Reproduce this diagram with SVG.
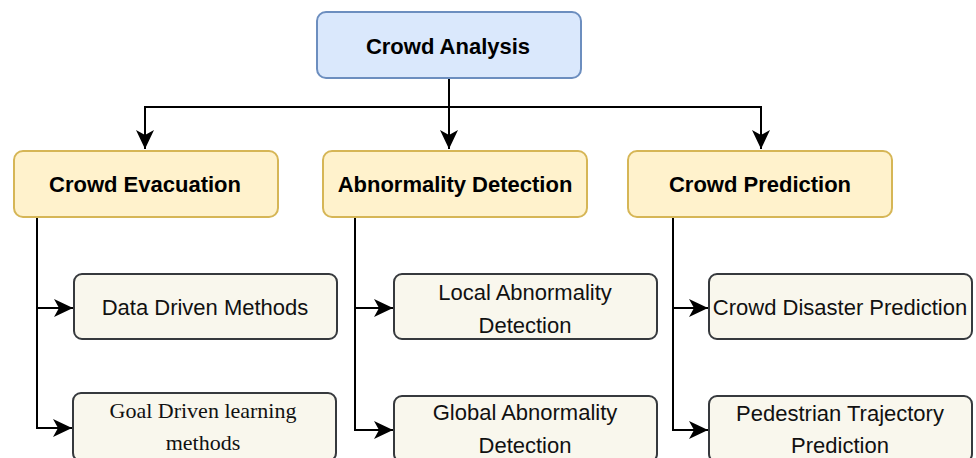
<svg xmlns="http://www.w3.org/2000/svg" width="976" height="458" viewBox="0 0 976 458">
<style>
.root{fill:#dae8fc;stroke:#6c8ebf;stroke-width:2}
.cat{fill:#fff2cc;stroke:#d6b656;stroke-width:2}
.leaf{fill:#f9f7ed;stroke:#36393d;stroke-width:2}
.b{font-family:"Liberation Sans",Arial,sans-serif;font-weight:bold;font-size:22px;fill:#000;text-anchor:middle}
.t{font-family:"Liberation Sans",Arial,sans-serif;font-size:22px;fill:#111;text-anchor:middle}
.s{font-family:"Liberation Serif","Times New Roman",serif;font-size:22px;fill:#111;text-anchor:middle}
.c{fill:none;stroke:#000;stroke-width:2}
</style>
<defs>
<marker id="arr" markerUnits="userSpaceOnUse" markerWidth="22" markerHeight="20" refX="19" refY="9" orient="auto">
<path d="M0,0 L19,9 L0,18 L5,9 Z" fill="#000"/>
</marker>
</defs>
<g id="connectors">
<path class="c" d="M449,78 V149" marker-end="url(#arr)"/>
<path class="c" d="M145,107 H761"/>
<path class="c" d="M145,106 V149" marker-end="url(#arr)"/>
<path class="c" d="M761,106 V149" marker-end="url(#arr)"/>
<path class="c" d="M37,217 V428 H72" marker-end="url(#arr)"/>
<path class="c" d="M37,308 H73" marker-end="url(#arr)"/>
<path class="c" d="M355,217 V430 H393" marker-end="url(#arr)"/>
<path class="c" d="M355,308 H393" marker-end="url(#arr)"/>
<path class="c" d="M673,217 V430 H708" marker-end="url(#arr)"/>
<path class="c" d="M673,308 H708" marker-end="url(#arr)"/>
</g>
<g id="crowd-analysis">
<rect class="root" x="317" y="12" width="264" height="66" rx="9"/>
<text class="b" x="448" y="54">Crowd Analysis</text>
</g>
<g id="crowd-evacuation">
<rect class="cat" x="14" y="151" width="264" height="66" rx="9"/>
<text class="b" x="145" y="192">Crowd Evacuation</text>
</g>
<g id="abnormality-detection">
<rect class="cat" x="323" y="151" width="264" height="66" rx="9"/>
<text class="b" x="455" y="192">Abnormality Detection</text>
</g>
<g id="crowd-prediction">
<rect class="cat" x="628" y="151" width="264" height="66" rx="9"/>
<text class="b" x="760" y="192">Crowd Prediction</text>
</g>
<g id="data-driven">
<rect class="leaf" x="74" y="274" width="263" height="65" rx="8"/>
<text class="t" x="205" y="315">Data Driven Methods</text>
</g>
<g id="goal-driven">
<rect class="leaf" x="73" y="393" width="263" height="68" rx="8"/>
<text class="s" x="203" y="418">Goal Driven learning</text>
<text class="s" x="203" y="450">methods</text>
</g>
<g id="local-abnormality">
<rect class="leaf" x="394" y="274" width="263" height="65" rx="8"/>
<text class="t" x="525" y="300">Local Abnormality</text>
<text class="t" x="525" y="333">Detection</text>
</g>
<g id="global-abnormality">
<rect class="leaf" x="394" y="396" width="263" height="66" rx="8"/>
<text class="t" x="525" y="420">Global Abnormality</text>
<text class="t" x="525" y="453">Detection</text>
</g>
<g id="crowd-disaster">
<rect class="leaf" x="709" y="274" width="263" height="65" rx="8"/>
<text class="t" x="840" y="315">Crowd Disaster Prediction</text>
</g>
<g id="pedestrian-trajectory">
<rect class="leaf" x="709" y="396" width="263" height="66" rx="8"/>
<text class="t" x="840" y="421">Pedestrian Trajectory</text>
<text class="t" x="840" y="453">Prediction</text>
</g>
</svg>
